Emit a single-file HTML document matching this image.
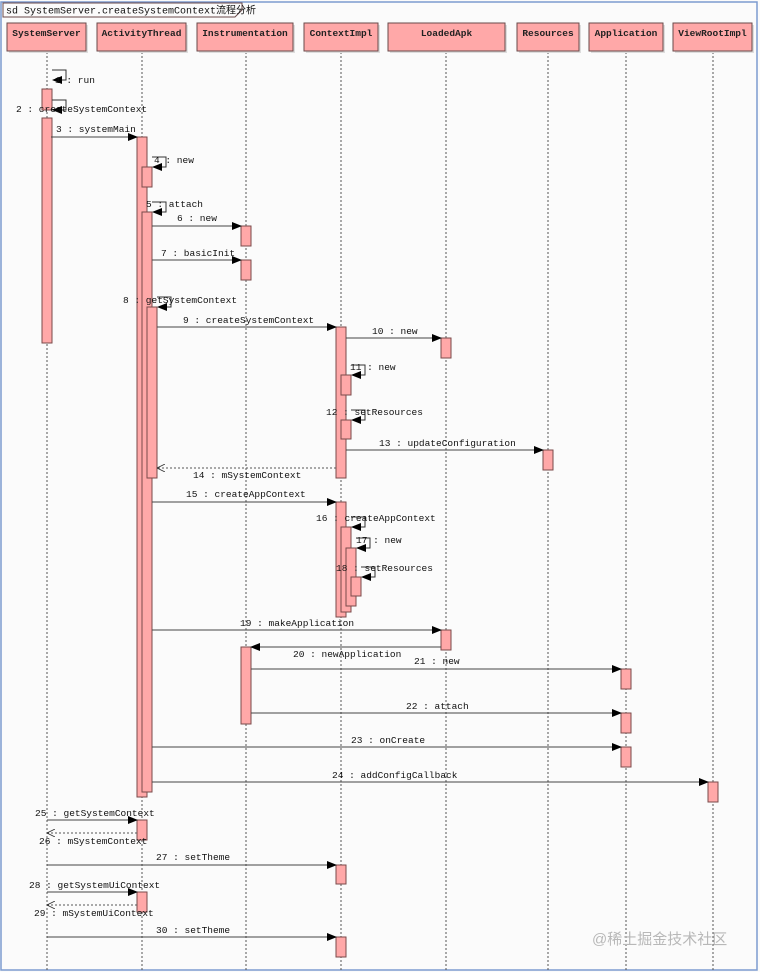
<!DOCTYPE html>
<html><head><meta charset="utf-8"><style>
html,body{margin:0;padding:0;background:#fbfbfb;}
svg{display:block;font-family:"Liberation Mono","Noto Sans CJK SC",monospace;}
</style></head><body>
<svg id="d" width="760" height="972" viewBox="0 0 760 972">
<defs>
<marker id="af" markerWidth="10" markerHeight="8" refX="9" refY="4" orient="auto" markerUnits="userSpaceOnUse"><path d="M0,0 L10,4 L0,8 z" fill="#000"/></marker>
<marker id="ao" markerWidth="8" markerHeight="8" refX="8" refY="4" orient="auto" markerUnits="userSpaceOnUse"><path d="M0,0 L8,4 L0,8" fill="none" stroke="#333" stroke-width="0.8"/></marker>
</defs>
<rect x="1" y="2" width="756" height="968" fill="#fbfbfb" stroke="#7c9bd0" stroke-width="1.5"/>
<path d="M3,3 L242,3 L242,10 L235,17 L3,17 z" fill="#fbfbfb" stroke="#6a4a4a" stroke-width="1"/>
<text x="6" y="13.5" font-size="10" fill="#111">sd SystemServer.createSystemContext流程分析</text>
<g id="g"></g>
<text x="592" y="944" font-size="15" fill="#b8b8b8" font-family="Liberation Sans,Noto Sans CJK SC,sans-serif">@稀土掘金技术社区</text>
</svg>
<script>
const names=["SystemServer","ActivityThread","Instrumentation","ContextImpl","LoadedApk","Resources","Application","ViewRootImpl"];
const lx=[47,142,246,341,446,548,626,713];
const bx=[[7,86],[97,186],[197,293],[304,378],[388,505],[517,579],[589,663],[673,752]];
// activations: [lifeline, offset, y1, y2]
const acts=[[0,0,89,110],[0,0,118,343],[1,0,137,797],[1,1,167,187],[1,1,212,792],[1,2,307,478],
[2,0,226,246],[2,0,260,280],[2,0,647,724],
[3,0,327,478],[3,1,375,395],[3,1,420,439],[3,0,502,617],[3,1,527,612],[3,2,548,606],[3,3,577,596],[3,0,865,884],[3,0,937,957],
[4,0,338,358],[4,0,630,650],[5,0,450,470],[6,0,669,689],[6,0,713,733],[6,0,747,767],[7,0,782,802],
[1,0,820,840],[1,0,892,912]];
// messages: [label, fromX, toX, y, type(s=sync,r=return,self), labelX, labelY]
const msgs=[
["1 : run",47,47,80,"self",55,83],
["2 : createSystemContext",47,47,110,"self",16,112],
["3 : systemMain",51,137,137,"s",56,132],
["4 : new",147,147,167,"self",154,163],
["5 : attach",147,147,212,"self",146,207],
["6 : new",152,241,226,"s",177,221],
["7 : basicInit",152,241,260,"s",161,256],
["8 : getSystemContext",152,152,307,"self",123,303],
["9 : createSystemContext",157,336,327,"s",183,323],
["10 : new",346,441,338,"s",372,334],
["11 : new",346,346,375,"self",350,370],
["12 : setResources",346,346,420,"self",326,415],
["13 : updateConfiguration",346,543,450,"s",379,446],
["14 : mSystemContext",336,157,468,"r",193,478],
["15 : createAppContext",152,336,502,"s",186,497],
["16 : createAppContext",346,346,527,"self",316,521],
["17 : new",351,351,548,"self",356,543],
["18 : setResources",356,356,577,"self",336,571],
["19 : makeApplication",152,441,630,"s",240,626],
["20 : newApplication",441,251,647,"s",293,657],
["21 : new",251,621,669,"s",414,664],
["22 : attach",251,621,713,"s",406,709],
["23 : onCreate",152,621,747,"s",351,743],
["24 : addConfigCallback",152,708,782,"s",332,778],
["25 : getSystemContext",47,137,820,"s",35,816],
["26 : mSystemContext",137,47,833,"r",39,844],
["27 : setTheme",47,336,865,"s",156,860],
["28 : getSystemUiContext",47,137,892,"s",29,888],
["29 : mSystemUiContext",137,47,905,"r",34,916],
["30 : setTheme",47,336,937,"s",156,933]];
const g=document.getElementById('g');
const NS="http://www.w3.org/2000/svg";
function mk(t,a){const e=document.createElementNS(NS,t);for(const k in a)e.setAttribute(k,a[k]);g.appendChild(e);return e;}
names.forEach((n,i)=>{
 const l=mk('line',{x1:lx[i],y1:52,x2:lx[i],y2:970,stroke:'#555','stroke-dasharray':'2,2','stroke-width':1});
 
 
 mk('rect',{x:bx[i][0]+2,y:25,width:bx[i][1]-bx[i][0],height:28,fill:'#ddd'});
 const r=mk('rect',{x:bx[i][0],y:23,width:bx[i][1]-bx[i][0],height:28,fill:'#ffa8a8',stroke:'#6a4a4a','stroke-width':1});
 
 
 const t=mk('text',{x:(bx[i][0]+bx[i][1])/2,y:36,'text-anchor':'middle','font-size':9.5,'font-weight':'bold',fill:'#222'});
 t.textContent=n;
 
 
});
acts.forEach(a=>{
 const r=mk('rect',{x:lx[a[0]]-5+a[1]*5,y:a[2],width:10,height:a[3]-a[2],fill:'#ffa8a8',stroke:'#7a4a4a','stroke-width':1});
 
 
});
msgs.forEach(m=>{
 let e;
 if(m[4]==="self"){
  const x=m[1]+5,y=m[3];
  e=mk('path',{d:`M${x},${y-10} L${x+14},${y-10} L${x+14},${y} L${x+1},${y}`,fill:'none',stroke:'#333','stroke-width':1,'marker-end':'url(#af)'});
 } else if(m[4]==="r"){
  e=mk('line',{x1:m[1],y1:m[3],x2:m[2],y2:m[3],stroke:'#555','stroke-width':1,'stroke-dasharray':'2,2','marker-end':'url(#ao)'});
 } else {
  e=mk('line',{x1:m[1],y1:m[3],x2:m[2],y2:m[3],stroke:'#444','stroke-width':1,'marker-end':'url(#af)'});
 }
 
 
 const t=mk('text',{x:m[5],y:m[6],'font-size':9.5,fill:'#111'});
 t.textContent=m[0];
 
 
});
</script>
</body></html>
